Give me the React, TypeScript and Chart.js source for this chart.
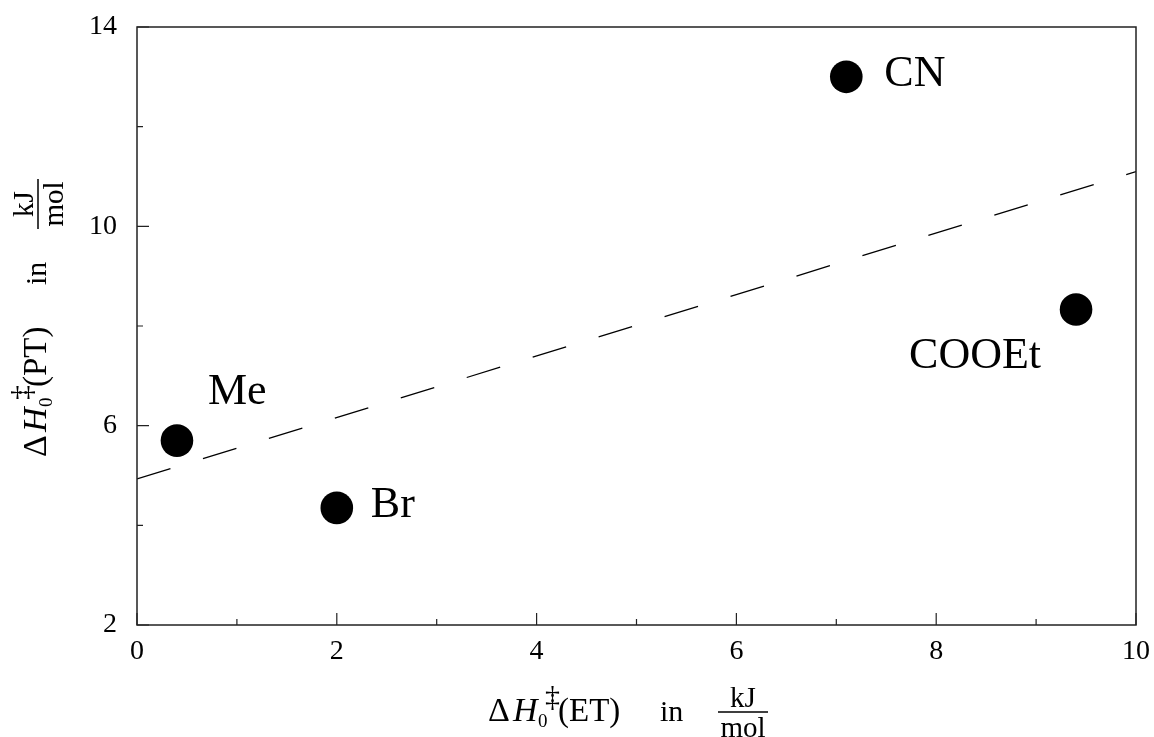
import React, { useEffect, useRef } from "react";
import { Chart, registerables } from "chart.js";

Chart.register(...registerables);

// ---- data ----
const substituents = ["Me", "Br", "CN", "COOEt"];
const etValues = [0.4, 2.0, 7.1, 9.4];
const ptValues = [5.7, 4.35, 13.0, 8.33];
const fitX = [0, 10];
const fitY = [4.93, 11.1];
const xMajorTicks = [0, 2, 4, 6, 8, 10];
const xMinorTicks = [1, 3, 5, 7, 9];
const yMajorTicks = [2, 6, 10, 14];
const yMinorTicks = [4, 8, 12];

// label placement (pixel offsets relative to the point), style only
const labelOffsets = [
  { dx: 31, dy: -37, align: "left" },
  { dx: 34, dy: 9, align: "left" },
  { dx: 38, dy: 9, align: "left" },
  { dx: -35, dy: 58, align: "right" },
];

const SERIF = '"Liberation Serif", "Times New Roman", Times, serif';

type TitleLayout = {
  h: number;
  sub: number;
  dd: number;
  paren: number;
  inn: number;
  f0: number;
  f1: number;
  bar: number;
};

function drawTitle(
  ctx: CanvasRenderingContext2D,
  ox: number,
  oy: number,
  rot: number,
  paren: string,
  o: TitleLayout
) {
  ctx.save();
  ctx.translate(ox, oy);
  ctx.rotate(rot);
  ctx.fillStyle = "#000";
  ctx.textBaseline = "alphabetic";
  ctx.textAlign = "left";
  ctx.font = `34px ${SERIF}`;
  ctx.fillText("Δ", 0, 0);
  ctx.font = `italic 34px ${SERIF}`;
  ctx.fillText("H", o.h, 0);
  ctx.font = `30px ${SERIF}`;
  ctx.fillText("‡", o.dd, -15);
  ctx.font = `19px ${SERIF}`;
  ctx.fillText("0", o.sub, 6);
  ctx.font = `33px ${SERIF}`;
  ctx.fillText(paren, o.paren, 0);
  ctx.font = `30px ${SERIF}`;
  ctx.fillText("in", o.inn, 0);
  ctx.font = `29px ${SERIF}`;
  ctx.textAlign = "center";
  const cx = (o.f0 + o.f1) / 2;
  ctx.fillText("kJ", cx, o.bar - 5);
  ctx.fillText("mol", cx, o.bar + 25);
  ctx.fillRect(o.f0, o.bar - 0.75, o.f1 - o.f0, 1.5);
  ctx.restore();
}

const overlayPlugin = {
  id: "overlay",
  afterDatasetsDraw(chart: any) {
    const ctx: CanvasRenderingContext2D = chart.ctx;
    const { left, right, top, bottom } = chart.chartArea;
    const xs = chart.scales.x;
    const ys = chart.scales.y;
    ctx.save();
    // frame
    ctx.strokeStyle = "#222";
    ctx.lineWidth = 1.5;
    ctx.strokeRect(left, top, right - left, bottom - top);
    // inward ticks
    ctx.beginPath();
    xMajorTicks.forEach((v) => {
      const px = xs.getPixelForValue(v);
      ctx.moveTo(px, bottom);
      ctx.lineTo(px, bottom - 12);
    });
    xMinorTicks.forEach((v) => {
      const px = xs.getPixelForValue(v);
      ctx.moveTo(px, bottom);
      ctx.lineTo(px, bottom - 6);
    });
    yMajorTicks.forEach((v) => {
      const py = ys.getPixelForValue(v);
      ctx.moveTo(left, py);
      ctx.lineTo(left + 12, py);
    });
    yMinorTicks.forEach((v) => {
      const py = ys.getPixelForValue(v);
      ctx.moveTo(left, py);
      ctx.lineTo(left + 6, py);
    });
    ctx.lineWidth = 1.2;
    ctx.stroke();

    // point labels
    ctx.fillStyle = "#000";
    ctx.font = `44px ${SERIF}`;
    ctx.textBaseline = "alphabetic";
    substituents.forEach((name, i) => {
      const px = xs.getPixelForValue(etValues[i]);
      const py = ys.getPixelForValue(ptValues[i]);
      const o = labelOffsets[i];
      ctx.textAlign = o.align as CanvasTextAlign;
      ctx.fillText(name, px + o.dx, py + o.dy);
    });
    ctx.restore();

    // axis titles
    drawTitle(ctx, 488, 721, 0, "(ET)", {
      h: 25,
      sub: 50,
      dd: 57,
      paren: 70,
      inn: 172,
      f0: 230,
      f1: 280,
      bar: -9,
    });
    drawTitle(ctx, 46, 457, -Math.PI / 2, "(PT)", {
      h: 25,
      sub: 50,
      dd: 57,
      paren: 70,
      inn: 172,
      f0: 228,
      f1: 278,
      bar: -8,
    });
  },
};

export default function App() {
  const canvasRef = useRef<HTMLCanvasElement | null>(null);

  useEffect(() => {
    document.body.style.margin = "0";
    const canvas = canvasRef.current;
    if (!canvas) return;
    const chart = new Chart(canvas, {
      type: "scatter",
      data: {
        datasets: [
          {
            type: "line",
            label: "fit",
            data: fitX.map((x, i) => ({ x, y: fitY[i] })),
            borderColor: "#000",
            borderWidth: 1.3,
            borderDash: [35, 34],
            pointRadius: 0,
            fill: false,
          },
          {
            type: "scatter",
            label: "points",
            data: etValues.map((x, i) => ({ x, y: ptValues[i] })),
            backgroundColor: "#000",
            borderWidth: 0,
            pointRadius: 16.3,
          },
        ],
      },
      options: {
        animation: false,
        responsive: true,
        maintainAspectRatio: false,
        layout: { padding: { left: 0, top: 27, right: 18, bottom: 0 } },
        plugins: {
          legend: { display: false },
          tooltip: { enabled: false },
        },
        scales: {
          x: {
            type: "linear",
            min: 0,
            max: 10,
            grid: { display: false, drawTicks: false },
            border: { display: false },
            ticks: {
              stepSize: 2,
              padding: 10,
              color: "#000",
              font: { family: SERIF, size: 28 },
              maxRotation: 0,
            },
            afterFit: (scale: any) => {
              scale.height = 112;
              scale.paddingLeft = 0;
              scale.paddingRight = 0;
            },
          },
          y: {
            type: "linear",
            min: 2,
            max: 14,
            grid: { display: false, drawTicks: false },
            border: { display: false },
            ticks: {
              stepSize: 4,
              padding: 20,
              color: "#000",
              font: { family: SERIF, size: 28 },
            },
            afterFit: (scale: any) => {
              scale.width = 137;
              scale.paddingTop = 0;
              scale.paddingBottom = 0;
            },
          },
        },
      },
      plugins: [overlayPlugin],
    } as any);
    return () => chart.destroy();
  }, []);

  return (
    <div
      style={{
        position: "absolute",
        left: 0,
        top: 0,
        width: "1154px",
        height: "737px",
        background: "#fff",
      }}
    >
      <canvas ref={canvasRef} />
    </div>
  );
}
